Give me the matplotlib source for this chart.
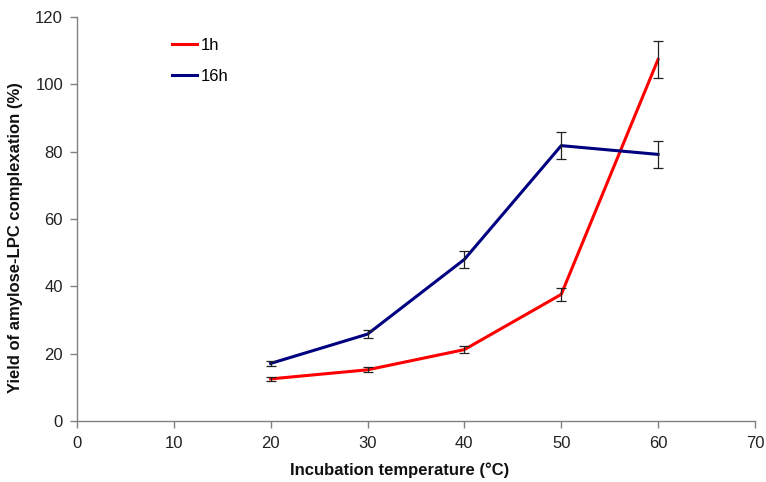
import matplotlib
matplotlib.use("Agg")
import matplotlib.pyplot as plt

plt.rcParams['font.family'] = ['Liberation Sans', 'DejaVu Sans']

temps = [20, 30, 40, 50, 60]
yield_1h = [12.5, 15.2, 21.2, 37.6, 107.4]
err_1h = [0.6, 0.7, 1.1, 1.9, 5.4]
yield_16h = [17.1, 25.8, 48.0, 81.8, 79.2]
err_16h = [0.8, 1.2, 2.5, 4.0, 4.0]
labels = ['1h', '16h']
colors = ['#ff0000', '#000080']

fig = plt.figure(figsize=(7.66, 4.82), dpi=100)
ax = fig.add_axes([0.1005, 0.1266, 0.885, 0.838])

for y, e, lab, c in [(yield_1h, err_1h, labels[0], colors[0]),
                     (yield_16h, err_16h, labels[1], colors[1])]:
    ax.plot(temps, y, color=c, lw=2.2, label=lab, zorder=3)
    ax.errorbar(temps, y, yerr=e, fmt='none', ecolor='#222222',
                elinewidth=0.9, capsize=3.5, capthick=0.9, zorder=4)

ax.set_xlim(0, 70)
ax.set_ylim(0, 120)
ax.set_xticks(range(0, 71, 10))
ax.set_yticks(range(0, 121, 20))

for side in ['top', 'right']:
    ax.spines[side].set_visible(False)
for side in ['left', 'bottom']:
    ax.spines[side].set_color('#808080')
    ax.spines[side].set_linewidth(1.0)
ax.tick_params(axis='both', direction='out', length=5, width=1.0,
               color='#808080', labelsize=12, labelcolor='#222222')
ax.tick_params(axis='x', pad=6)
ax.tick_params(axis='y', pad=5)

ax.set_xlabel('Incubation temperature (°C)', fontsize=12, fontweight='bold',
              color='#111111')
ax.xaxis.set_label_coords(0.476, -0.103)
ax.set_ylabel('Yield of amylose-LPC complexation (%)', fontsize=12,
              fontweight='bold', color='#111111')
ax.yaxis.set_label_coords(-0.079, 0.455)

ax.legend(loc='upper left', bbox_to_anchor=(0.118, 0.985), frameon=False,
          fontsize=12, handlelength=1.5, handletextpad=0.2,
          labelspacing=0.95)

fig.savefig('out.png', dpi=100)
